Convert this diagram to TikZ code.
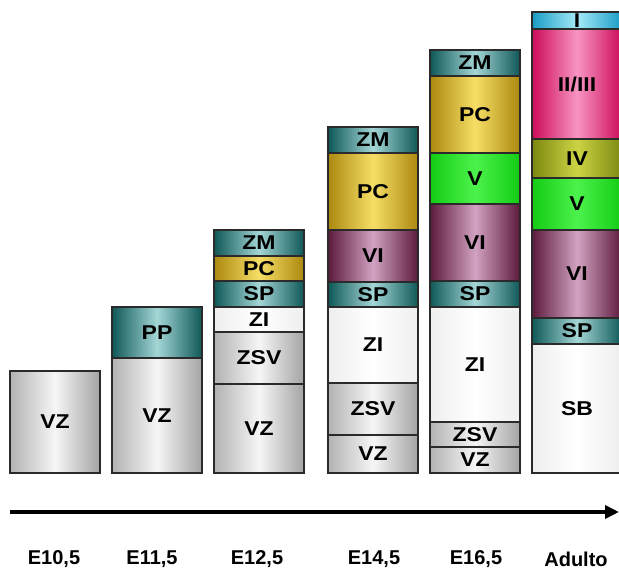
\documentclass[tikz,border=0pt]{standalone}
\usepackage{fontspec}
\setmainfont{Liberation Sans}
\newfontfamily\bxf{Liberation Sans}[FakeStretch=1.15]
\usetikzlibrary{arrows.meta}
\definecolor{brd}{HTML}{2A2A2A}
\definecolor{grE}{HTML}{B2B2B2}\definecolor{grM}{HTML}{F6F6F6}
\definecolor{tlE}{HTML}{0F5858}\definecolor{tlM}{HTML}{A4D6D6}
\definecolor{gdE}{HTML}{AC8810}\definecolor{gdM}{HTML}{F6DE66}
\definecolor{puE}{HTML}{5C1A3C}\definecolor{puM}{HTML}{D2A2C2}
\definecolor{gnE}{HTML}{14CC14}\definecolor{gnM}{HTML}{4CF24C}
\definecolor{olE}{HTML}{7C8810}\definecolor{olM}{HTML}{CCD444}
\definecolor{pkE}{HTML}{CC0C58}\definecolor{pkM}{HTML}{F894C2}
\definecolor{blE}{HTML}{1A9CC4}\definecolor{blM}{HTML}{A4EAF8}
\definecolor{whE}{HTML}{EEEEEE}\definecolor{whM}{HTML}{FFFFFF}
\newcommand\lay[7]{%
  \node[layer,#6,minimum width={(#4-#2)*1pt},minimum height={(#5-#3)*1pt}]
    (#1) at ({(#2+#4)/2},{(#3+#5)/2}) {#7};}
\begin{document}
\begin{tikzpicture}[x=1pt,y=-1pt,
  layer/.style={draw=brd,line width=1.5pt,inner sep=0pt,outer sep=0pt,
    rectangle,font=\bxf\bfseries\fontsize{20}{20}\selectfont},
  gray/.style={left color=grE,right color=grE!92!black,middle color=grM},
  teal/.style={left color=tlE,right color=tlE,middle color=tlM},
  gold/.style={left color=gdE,right color=gdE,middle color=gdM},
  purp/.style={left color=puE,right color=puE,middle color=puM},
  grn/.style={left color=gnE,right color=gnE,middle color=gnM},
  oliv/.style={left color=olE,right color=olE,middle color=olM},
  pink/.style={left color=pkE,right color=pkE,middle color=pkM},
  blu/.style={left color=blE,right color=blE,middle color=blM},
  wht/.style={left color=whE,right color=whE,middle color=whM},
  stage/.style={font=\bfseries\fontsize{20}{20}\selectfont,inner sep=0pt}]
\useasboundingbox (0,0) rectangle (619,572);
% E10,5
\lay{a1}{10}{371}{100}{473}{gray}{VZ}
% E11,5
\lay{b2}{112}{358}{202}{473}{gray}{VZ}
\lay{b1}{112}{307}{202}{358}{teal}{PP}
% E12,5
\lay{c6}{214}{384}{304}{473}{gray}{VZ}
\lay{c5}{214}{332}{304}{384}{gray}{ZSV}
\lay{c4}{214}{307}{304}{332}{wht}{ZI}
\lay{c3}{214}{281}{304}{307}{teal}{SP}
\lay{c2}{214}{256}{304}{281}{gold}{PC}
\lay{c1}{214}{230}{304}{256}{teal}{ZM}
% E14,5
\lay{d7}{328}{435}{418}{473}{gray}{VZ}
\lay{d6}{328}{383}{418}{435}{gray}{ZSV}
\lay{d5}{328}{307}{418}{383}{wht}{ZI}
\lay{d4}{328}{282}{418}{307}{teal}{SP}
\lay{d3}{328}{230}{418}{282}{purp}{VI}
\lay{d2}{328}{153}{418}{230}{gold}{PC}
\lay{d1}{328}{127}{418}{153}{teal}{ZM}
% E16,5
\lay{e8}{430}{447}{520}{473}{gray}{VZ}
\lay{e7}{430}{422}{520}{447}{gray}{ZSV}
\lay{e6}{430}{307}{520}{422}{wht}{ZI}
\lay{e5}{430}{281}{520}{307}{teal}{SP}
\lay{e4}{430}{204}{520}{281}{purp}{VI}
\lay{e3}{430}{153}{520}{204}{grn}{V}
\lay{e2}{430}{76}{520}{153}{gold}{PC}
\lay{e1}{430}{50}{520}{76}{teal}{ZM}
% Adulto
\lay{f7}{532}{344}{622}{473}{wht}{SB}
\lay{f6}{532}{318}{622}{344}{teal}{SP}
\lay{f5}{532}{230}{622}{318}{purp}{VI}
\lay{f4}{532}{178}{622}{230}{grn}{V}
\lay{f3}{532}{139}{622}{178}{oliv}{IV}
\lay{f2}{532}{29}{622}{139}{pink}{II/III}
\lay{f1}{532}{12}{622}{29}{blu}{I}
% time axis
\coordinate (t0) at (10,512);
\coordinate (t1) at (619,512);
\draw[line width=3.5pt,-{Triangle[length=14pt,width=13pt]}] (t0) -- (t1);
\node[stage] (s1) at (54,559) {E10,5};
\node[stage] (s2) at (152,559) {E11,5};
\node[stage] (s3) at (257,559) {E12,5};
\node[stage] (s4) at (374,559) {E14,5};
\node[stage] (s5) at (476,559) {E16,5};
\node[stage] (s6) at (576,559) {Adulto};
\end{tikzpicture}
\end{document}
